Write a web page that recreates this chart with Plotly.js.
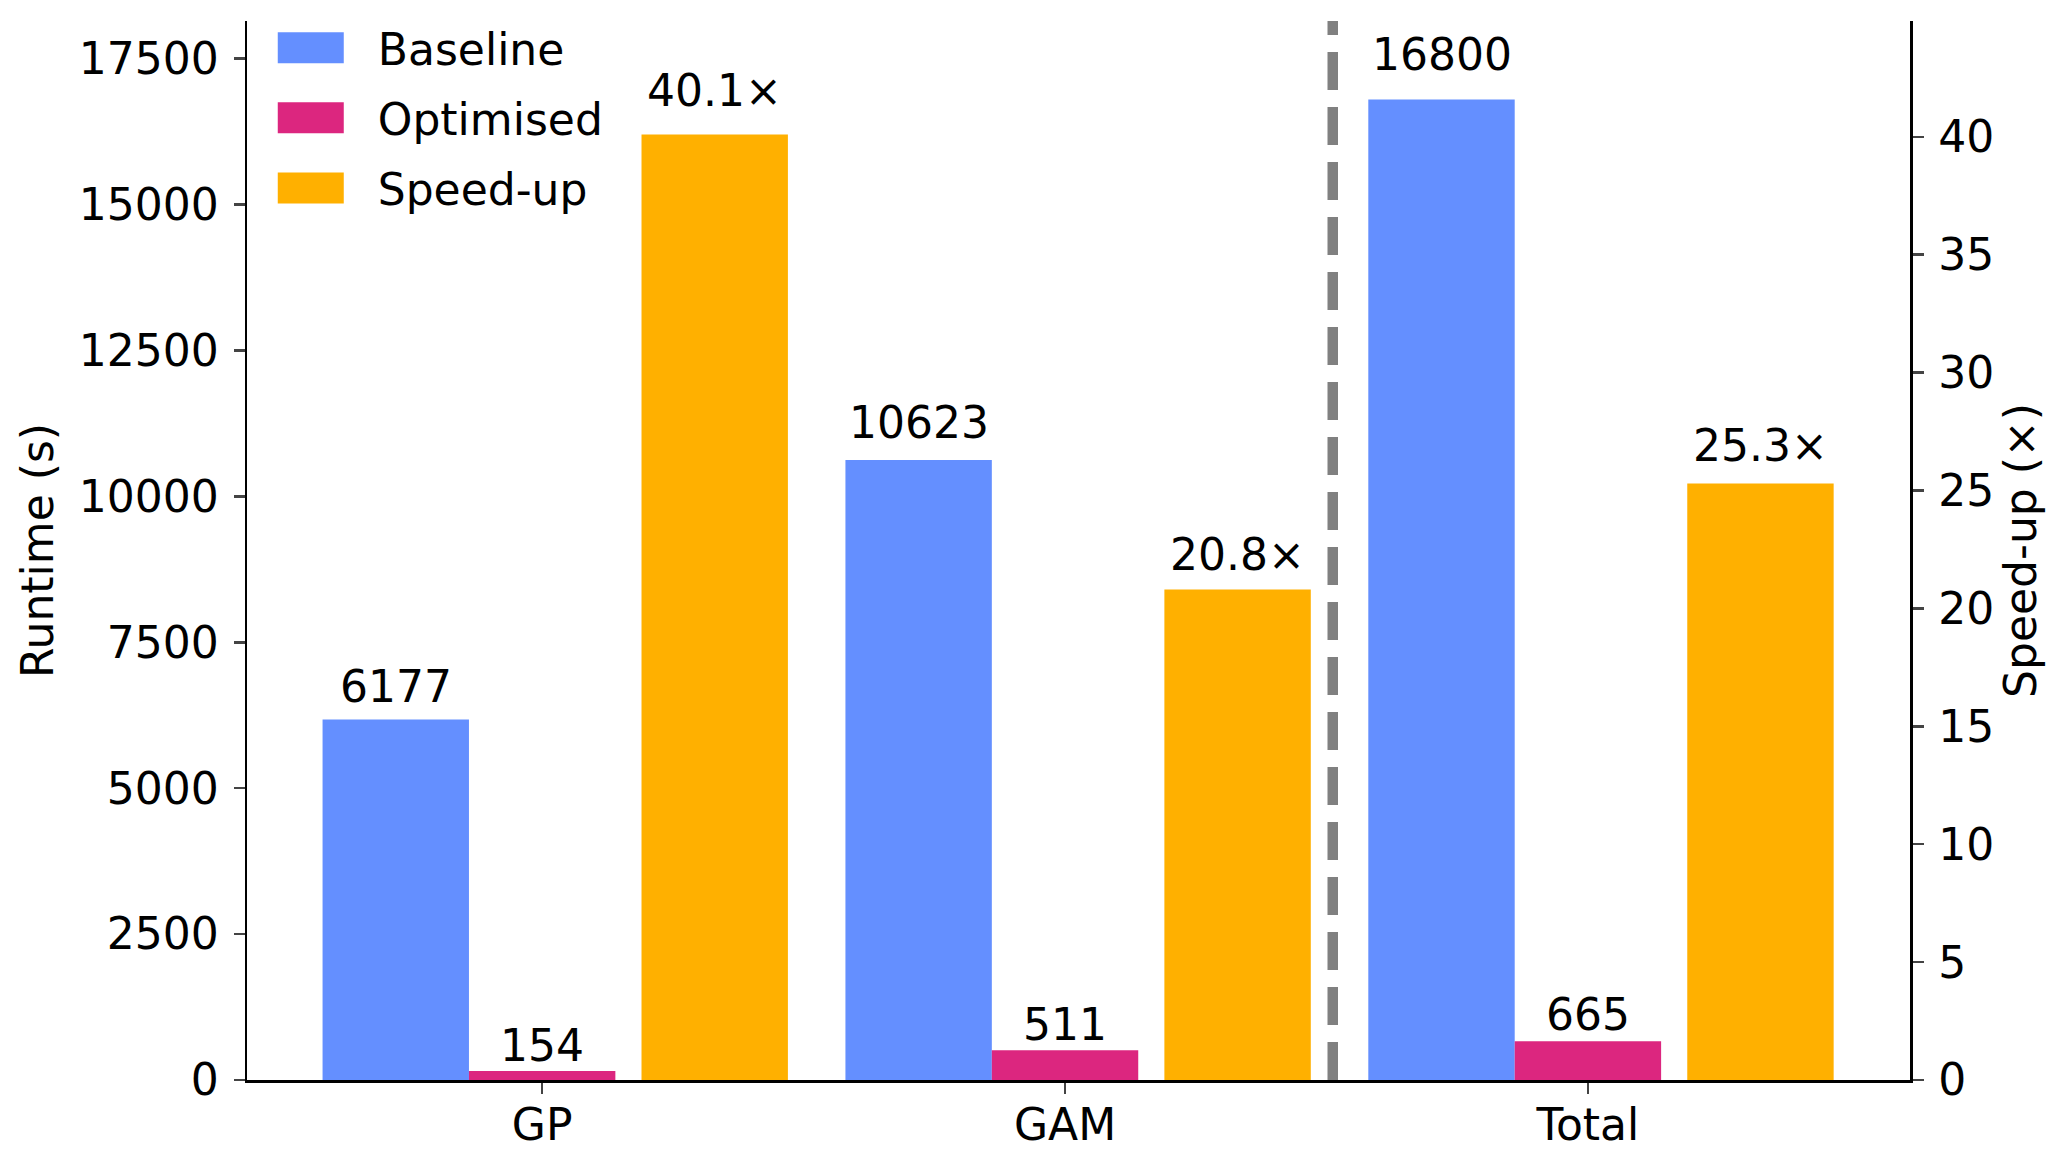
<!DOCTYPE html>
<html>
<head>
<meta charset="utf-8">
<script src="https://cdn.plot.ly/plotly-3.0.1.min.js"></script>
<style>
  body { margin: 0; background: white; }
  #chart { width: 2067px; height: 1160px; }
</style>
</head>
<body>
<div id="chart"></div>
<script>
// data
var categories = ['GP', 'GAM', 'Total'];
var catPos = [0, 1, 2];
var baseline = [6177, 10623, 16800];
var optimised = [154, 511, 665];
var speedup = [40.1, 20.8, 25.3];

var FONT = 'DejaVu Sans, Liberation Sans, sans-serif';
var BAR_W = 0.28;

var trace1 = {
    x: catPos,
    y: baseline,
    type: 'bar',
    name: 'Baseline',
    legendgroup: 'a',
    width: BAR_W,
    offset: -0.42,
    marker: { color: '#648FFF' }
};

var trace2 = {
    x: catPos,
    y: optimised,
    type: 'bar',
    name: 'Optimised',
    legendgroup: 'b',
    width: BAR_W,
    offset: -0.14,
    marker: { color: '#DC267F' }
};

var trace3 = {
    x: catPos,
    y: speedup,
    yaxis: 'y2',
    type: 'bar',
    name: 'Speed-up',
    legendgroup: 'c',
    width: BAR_W,
    offset: 0.19,
    marker: { color: '#FFB000' }
};

// value labels sit a little above each bar (2% of the value, like bar_label padding)
function labels(trace, yref, fmt) {
    return trace.x.map(function(xv, i) {
        return {
            x: xv + trace.offset + BAR_W / 2,
            y: trace.y[i] * 1.02,
            xref: 'x',
            yref: yref,
            text: fmt(trace.y[i]),
            showarrow: false,
            xanchor: 'center',
            yanchor: 'bottom',
            yshift: -2,
            font: { size: 44, color: 'black' }
        };
    });
}

var annotations = []
    .concat(labels(trace1, 'y', String))
    .concat(labels(trace2, 'y', String))
    .concat(labels(trace3, 'y2', function(v) { return v.toFixed(1) + '×'; }));

var layout = {
    width: 2067,
    height: 1160,
    plot_bgcolor: 'white',
    paper_bgcolor: 'white',
    font: { family: FONT, size: 44, color: 'black' },
    barmode: 'overlay',
    showlegend: true,
    margin: { l: 247, r: 157, t: 21, b: 80, pad: 0 },
    xaxis: {
        range: [-0.5645, 2.616],
        tickvals: catPos,
        ticktext: categories,
        ticks: 'outside',
        ticklen: 11,
        tickwidth: 2.5,
        ticklabelstandoff: -6,
        showline: true,
        linecolor: 'black',
        linewidth: 2.5,
        showgrid: false,
        zeroline: false
    },
    yaxis: {
        range: [0, 18144],
        dtick: 2500,
        tick0: 0,
        tickformat: 'd',
        ticks: 'outside',
        ticklen: 11,
        tickwidth: 2.5,
        ticklabelstandoff: 6,
        showline: true,
        linecolor: 'black',
        linewidth: 2.5,
        showgrid: false,
        zeroline: false,
        title: { text: 'Runtime (s)', font: { size: 44 }, standoff: 12 }
    },
    yaxis2: {
        overlaying: 'y',
        side: 'right',
        range: [0, 44.91],
        dtick: 5,
        tick0: 0,
        ticks: 'outside',
        ticklen: 11,
        tickwidth: 2.5,
        ticklabelstandoff: 6,
        showline: true,
        linecolor: 'black',
        linewidth: 2.5,
        showgrid: false,
        zeroline: false,
        title: { text: 'Speed-up (×)', font: { size: 44 }, standoff: 12 }
    },
    legend: {
        x: 0.0185,
        y: 1.008,
        xanchor: 'left',
        yanchor: 'top',
        bgcolor: 'rgba(0,0,0,0)',
        font: { size: 44 },
        itemwidth: 90,
        tracegroupgap: 10
    },
    annotations: annotations,
    shapes: [
        {
            // separator between the per-model groups and the total
            type: 'line',
            xref: 'x',
            yref: 'paper',
            x0: 1.512, x1: 1.512,
            y0: 0, y1: 1,
            line: { color: 'gray', width: 10.5, dash: '38px,17px' }
        }
    ]
};

var data = [trace1, trace2, trace3];

Plotly.newPlot('chart', data, layout, { displayModeBar: false, staticPlot: true }).then(function(gd) {
    // wider legend patches, like matplotlib's, with a gap before the text
    gd.querySelectorAll('.legend .legendpoints path').forEach(function(p) {
        p.setAttribute('d', 'M-74,-15.5H16V15.5H-74Z');
    });
});
</script>
</body>
</html>
